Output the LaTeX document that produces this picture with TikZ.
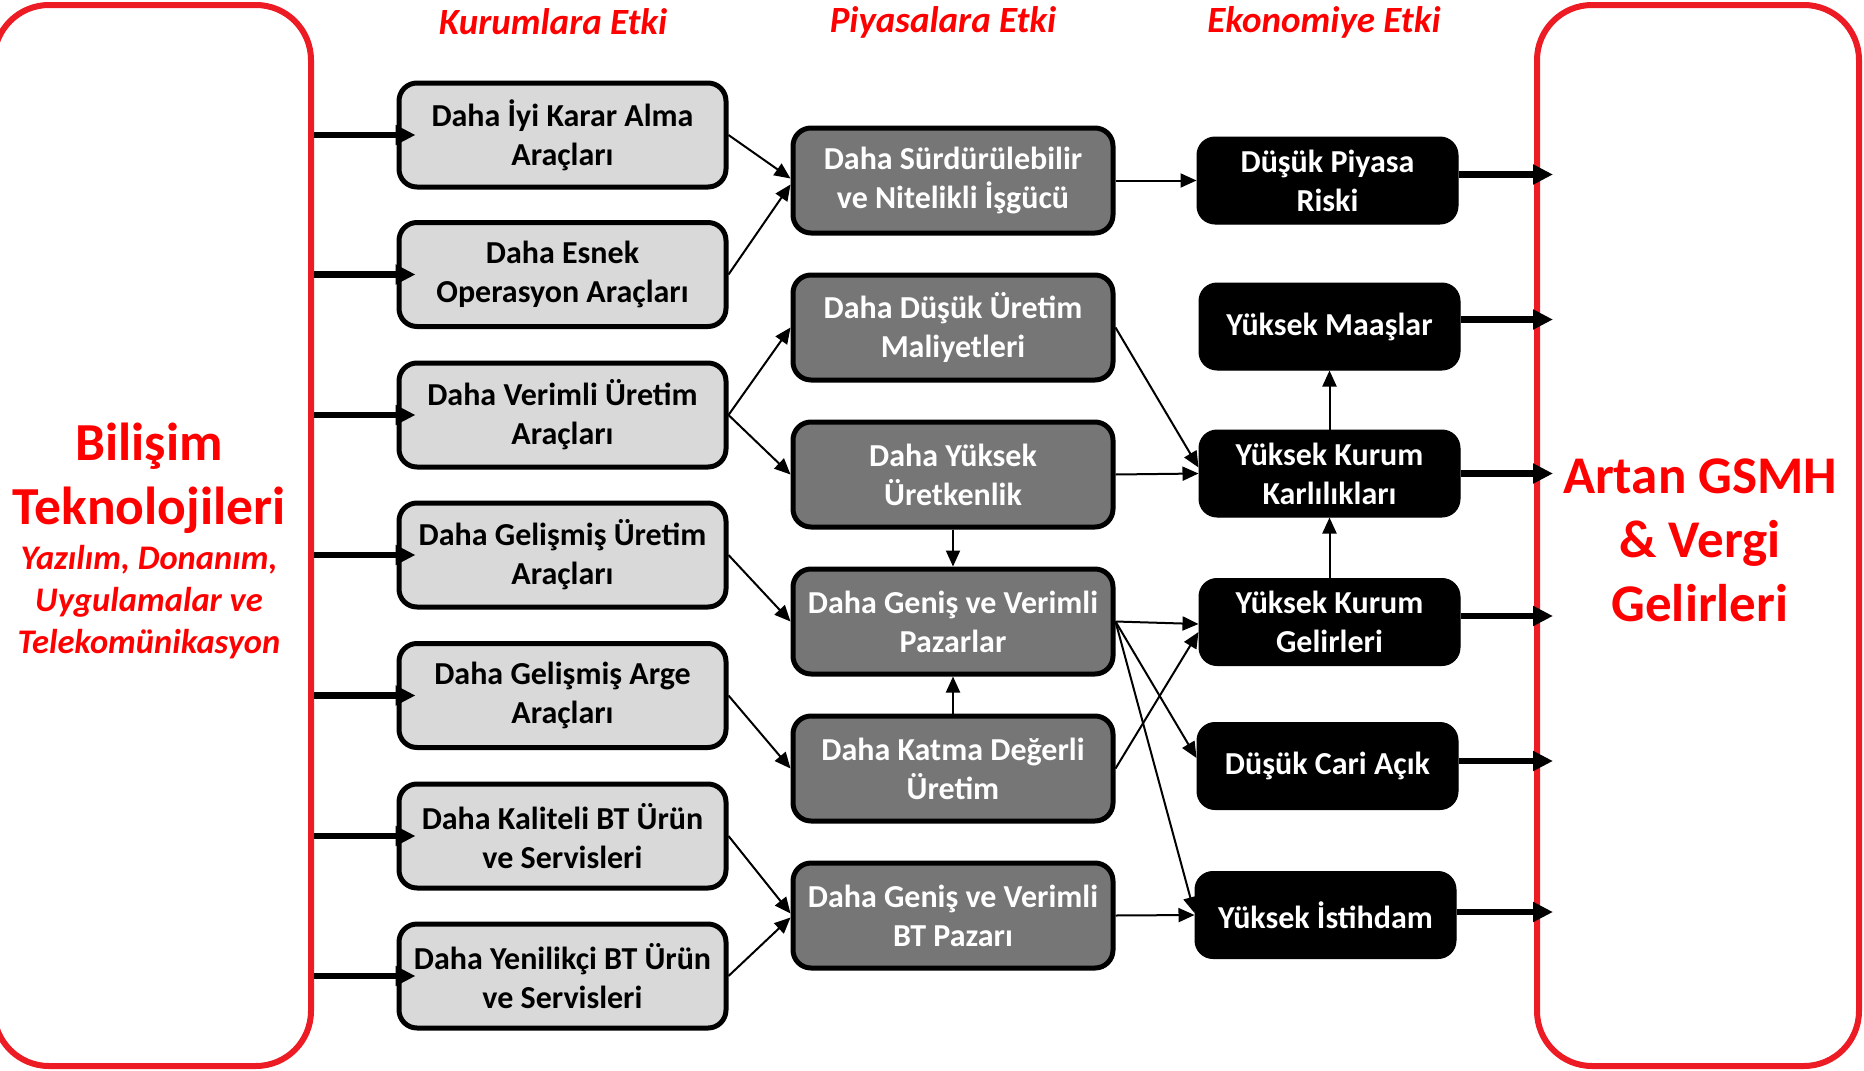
\documentclass[tikz,border=0pt]{standalone}
\usepackage{fontspec}
\setmainfont{Carlito}
\usetikzlibrary{arrows.meta}
\definecolor{boxred}{RGB}{237,28,36}
\definecolor{txtred}{RGB}{255,0,0}
\definecolor{lightbox}{RGB}{217,217,217}
\definecolor{darkbox}{RGB}{118,118,118}
\tikzset{
  base/.style={rounded corners=18pt, inner sep=0pt, align=center,
    font=\bfseries\fontsize{32}{39}\selectfont},
  lbox/.style={base, draw=black, line width=5pt, fill=lightbox, text=black,
    minimum width=327pt, minimum height=104pt},
  mbox/.style={base, draw=black, line width=5pt, fill=darkbox, text=white,
    minimum width=320pt, minimum height=105pt},
  ebox/.style={base, draw=black, line width=1pt, fill=black, text=white,
    minimum width=261pt, minimum height=87pt},
  redbox/.style={draw=boxred, line width=6pt, rounded corners=55pt, inner sep=0pt},
  header/.style={text=txtred, font=\bfseries\itshape\fontsize{37}{44}\selectfont},
  thickarr/.style={line width=6.5pt, -{Triangle[length=20pt,width=19pt]}, shorten >=-19pt},
  thinarr/.style={line width=2pt, -{Triangle[length=16pt,width=14pt]}},
}
\begin{document}
\begin{tikzpicture}[x=1pt,y=-1pt]
\path[use as bounding box] (0,0) rectangle (1864,1071);
\clip (0,0) rectangle (1864,1071);
% side boxes
\node[redbox, minimum width=317pt, minimum height=1061pt] (L) at (152.5,535.5) {};
\node[redbox, minimum width=322pt, minimum height=1061pt] (R) at (1698,535.5) {};
\node[text=txtred, align=center, font=\bfseries\fontsize{53.5}{64}\selectfont] (ltitle) at (149,478) {Bilişim\\Teknolojileri};
\node[text=txtred, align=center, font=\bfseries\itshape\fontsize{34.5}{42}\selectfont] (lsub) at (149,602) {Yazılım, Donanım,\\Uygulamalar ve\\Telekomünikasyon};
\node[text=txtred, align=center, font=\bfseries\fontsize{53}{64}\selectfont] (rtitle) at (1700,540) {Artan GSMH\\\& Vergi\\Gelirleri};
% headers
\node[header] (h1) at (553,22) {Kurumlara Etki};
\node[header] (h2) at (943,22) {Piyasalara Etki};
\node[header] (h3) at (1324,22) {Ekonomiye Etki};
% column 1
\node[lbox] (c1) at (562.5,135) {Daha İyi Karar Alma\\Araçları};
\node[lbox] (c2) at (562.5,274.5) {Daha Esnek\\Operasyon Araçları};
\node[lbox] (c3) at (562.5,415) {Daha Verimli Üretim\\Araçları};
\node[lbox] (c4) at (562.5,555) {Daha Gelişmiş Üretim\\Araçları};
\node[lbox] (c5) at (562.5,695.5) {Daha Gelişmiş Arge\\Araçları};
\node[lbox] (c6) at (562.5,836) {Daha Kaliteli BT Ürün\\ve Servisleri};
\node[lbox] (c7) at (562.5,976) {Daha Yenilikçi BT Ürün\\ve Servisleri};
% column 2
\node[mbox] (m1) at (953,180.5) {Daha Sürdürülebilir\\ve Nitelikli İşgücü};
\node[mbox] (m2) at (953,327.5) {Daha Düşük Üretim\\Maliyetleri};
\node[mbox] (m3) at (953,474.5) {Daha Yüksek\\Üretkenlik};
\node[mbox] (m4) at (953,621.5) {Daha Geniş ve Verimli\\Pazarlar};
\node[mbox] (m5) at (953,768.5) {Daha Katma Değerli\\Üretim};
\node[mbox] (m6) at (953,915.5) {Daha Geniş ve Verimli\\BT Pazarı};
% column 3
\node[ebox] (e1) at (1327.5,180.5) {Düşük Piyasa\\Riski};
\node[ebox] (e2) at (1329.5,326.5) {Yüksek Maaşlar};
\node[ebox] (e3) at (1329.5,473.5) {Yüksek Kurum\\Karlılıkları};
\node[ebox] (e4) at (1329.5,622) {Yüksek Kurum\\Gelirleri};
\node[ebox] (e5) at (1327.5,766) {Düşük Cari Açık};
\node[ebox] (e6) at (1325.5,915) {Yüksek İstihdam};
% thick arrows from left box
\foreach \n in {c1,c2,c3,c4,c5,c6,c7}
  \draw[thickarr] (L.east |- \n.west) -- (\n.west);
% thick arrows to right box
\draw[thickarr] ([yshift=6pt]e1.east) -- ([yshift=6pt]e1.east -| R.west);
\draw[thickarr] ([yshift=7pt]e2.east) -- ([yshift=7pt]e2.east -| R.west);
\draw[thickarr] (e3.east) -- (e3.east -| R.west);
\draw[thickarr] ([yshift=6pt]e4.east) -- ([yshift=6pt]e4.east -| R.west);
\draw[thickarr] ([yshift=5pt]e5.east) -- ([yshift=5pt]e5.east -| R.west);
\draw[thickarr] ([yshift=3pt]e6.east) -- ([yshift=3pt]e6.east -| R.west);
% thin arrows col1 -> col2
\draw[thinarr] (c1.east) -- ([yshift=2pt]m1.west);
\draw[thinarr] (c2.east) -- ([yshift=-4pt]m1.west);
\draw[thinarr] (c3.east) -- (m2.west);
\draw[thinarr] (c3.east) -- (m3.west);
\draw[thinarr] (c4.east) -- (m4.west);
\draw[thinarr] (c5.east) -- (m5.west);
\draw[thinarr] (c6.east) -- ([yshift=2pt]m6.west);
\draw[thinarr] (c7.east) -- ([yshift=-2pt]m6.west);
% col2 vertical
\draw[thinarr] (m3.south) -- (m4.north);
\draw[thinarr] (m5.north) -- (m4.south);
% col2 -> col3
\draw[thinarr] (m1.east) -- (e1.west);
\draw[thinarr] (m2.east) -- ([yshift=6pt]e3.west);
\draw[thinarr] (m3.east) -- (e3.west);
\draw[thinarr] (m4.east) -- ([yshift=-2pt]e4.west);
\draw[thinarr] (m5.east) -- ([yshift=-10pt]e4.west);
\draw[thinarr] (m4.east) -- ([yshift=8pt]e5.west);
\draw[thinarr] (m4.east) -- ([yshift=2pt]e6.west);
\draw[thinarr] (m6.east) -- (e6.west);
% col3 vertical
\draw[thinarr] (e3.north) -- (e2.south);
\draw[thinarr] (e4.north) -- (e3.south);
\end{tikzpicture}
\end{document}
